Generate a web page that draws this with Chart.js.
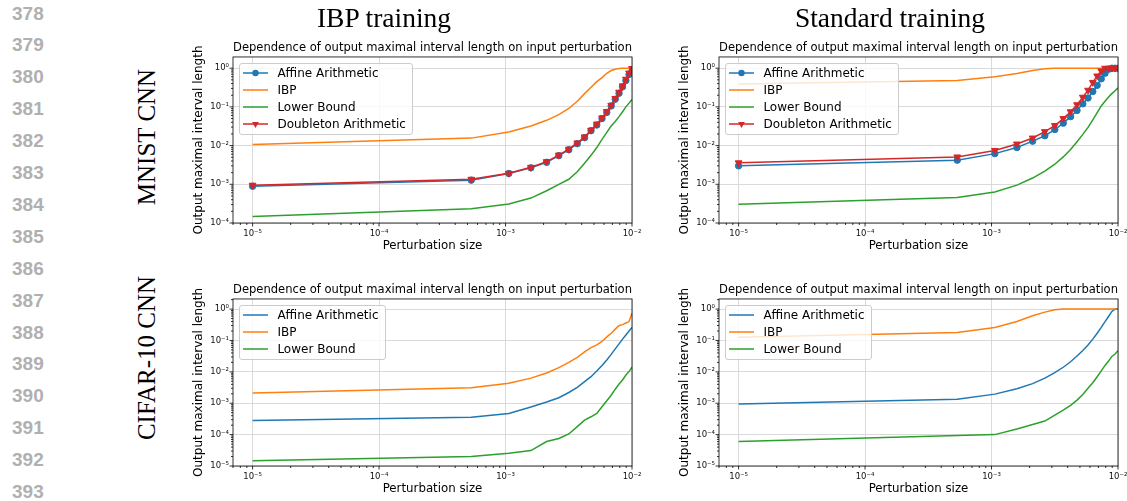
<!DOCTYPE html>
<html><head><meta charset="utf-8">
<script src="https://cdn.jsdelivr.net/npm/chart.js@4.4.1/dist/chart.umd.min.js"></script>
<style>
html,body{margin:0;padding:0;background:#fff;}
body{width:1127px;height:501px;position:relative;overflow:hidden;}
.ln{position:absolute;left:12px;font:bold 19px "Liberation Sans",Arial,sans-serif;color:#b0b0b0;line-height:1;transform:translateY(-50%);}
.coltitle{position:absolute;font:27.5px "Liberation Serif","Times New Roman",serif;transform:translate(-50%,-50%);white-space:nowrap;color:#000;}
.rowlabel{position:absolute;font:25px "Liberation Serif","Times New Roman",serif;transform:translate(-50%,-50%) rotate(-90deg);white-space:nowrap;color:#000;}
canvas{position:absolute;}
.legend{position:absolute;background:rgba(255,255,255,0.8);border:1px solid #cccccc;border-radius:3px;box-sizing:border-box;padding:0 6px 1.5px 3px;font:12px "DejaVu Sans",sans-serif;color:#000;}
.legend .row{display:flex;align-items:center;height:17.2px;white-space:nowrap;}
.legend svg{width:25px;height:10px;margin-right:9.4px;flex:none;}
</style></head><body>
<canvas id="c1" width="457" height="225" style="left:184px;top:33px"></canvas>
<canvas id="c2" width="457" height="225" style="left:670px;top:33px"></canvas>
<canvas id="c3" width="457" height="226" style="left:184px;top:275px"></canvas>
<canvas id="c4" width="457" height="226" style="left:670px;top:275px"></canvas>
<script>
// ---------- data ----------
const perturbation = [1e-5, 5.358e-4, 1.0616e-3, 1.5874e-3, 2.1132e-3, 2.6389e-3, 3.1647e-3, 3.6905e-3, 4.2163e-3, 4.7421e-3,
  5.2679e-3, 5.7937e-3, 6.3195e-3, 6.8453e-3, 7.3711e-3, 7.8968e-3, 8.4226e-3, 8.9484e-3, 9.4742e-3, 1e-2];

const seriesNames = ['Affine Arithmetic', 'IBP', 'Lower Bound', 'Doubleton Arithmetic'];
const columnTitles = ['IBP training', 'Standard training'];
const rowLabels = ['MNIST CNN', 'CIFAR-10 CNN'];
const lineNumbers = [378, 379, 380, 381, 382, 383, 384, 385, 386, 387, 388, 389, 390, 391, 392, 393];
const plotTitle = 'Dependence of output maximal interval length on input perturbation';
const xAxisLabel = 'Perturbation size';
const yAxisLabel = 'Output maximal interval length';

// MNIST CNN, IBP training
const mnistIbpAffine    = [8.9e-4, 1.28e-3, 1.9e-3, 2.66e-3, 3.7e-3, 5.5e-3, 7.8e-3, 0.0112, 0.016, 0.0243, 0.034, 0.05, 0.072, 0.106, 0.158, 0.225, 0.33, 0.48, 0.69, 0.85];
const mnistIbpIbp       = [0.0107, 0.0156, 0.0224, 0.032, 0.045, 0.063, 0.091, 0.14, 0.22, 0.32, 0.45, 0.57, 0.74, 0.87, 0.94, 0.98, 0.99, 1.0, 1.0, 1.0];
const mnistIbpLower     = [1.48e-4, 2.35e-4, 3.1e-4, 4.4e-4, 6.8e-4, 1.0e-3, 1.35e-3, 2.1e-3, 3.5e-3, 5.6e-3, 8.9e-3, 0.0145, 0.022, 0.032, 0.042, 0.056, 0.075, 0.1, 0.125, 0.155];
const mnistIbpDoubleton = [9.5e-4, 1.35e-3, 1.93e-3, 2.75e-3, 3.85e-3, 5.7e-3, 8.1e-3, 0.0117, 0.0168, 0.025, 0.036, 0.052, 0.076, 0.11, 0.165, 0.24, 0.35, 0.52, 0.75, 0.98];

// MNIST CNN, standard training
const mnistStdAffine    = [3.0e-3, 4.2e-3, 6.2e-3, 8.9e-3, 0.013, 0.018, 0.026, 0.038, 0.056, 0.081, 0.12, 0.17, 0.25, 0.36, 0.53, 0.74, 0.94, 1.0, 1.0, 1.0];
const mnistStdIbp       = [0.39, 0.48, 0.6, 0.73, 0.87, 0.97, 1.0, 1.0, 1.0, 1.0, 1.0, 1.0, 1.0, 1.0, 1.0, 1.0, 1.0, 1.0, 1.0, 1.0];
const mnistStdLower     = [3.05e-4, 4.55e-4, 6.3e-4, 9.5e-4, 1.45e-3, 2.2e-3, 3.3e-3, 5.1e-3, 7.9e-3, 0.0126, 0.0195, 0.0295, 0.046, 0.071, 0.106, 0.14, 0.18, 0.22, 0.26, 0.31];
const mnistStdDoubleton = [3.6e-3, 5.1e-3, 7.5e-3, 0.011, 0.0157, 0.023, 0.033, 0.05, 0.075, 0.114, 0.178, 0.27, 0.43, 0.63, 0.85, 1.0, 1.0, 1.0, 1.0, 1.0];

// CIFAR-10 CNN, IBP training
const cifarIbpAffine    = [2.8e-4, 3.6e-4, 4.7e-4, 7.6e-4, 1.1e-3, 1.5e-3, 2.2e-3, 3.2e-3, 4.9e-3, 7.0e-3, 0.0107, 0.016, 0.024, 0.036, 0.054, 0.078, 0.11, 0.15, 0.2, 0.26];
const cifarIbpIbp       = [2.1e-3, 3.1e-3, 4.3e-3, 6.3e-3, 9.2e-3, 0.0136, 0.02, 0.029, 0.043, 0.059, 0.072, 0.093, 0.13, 0.17, 0.23, 0.3, 0.32, 0.36, 0.4, 0.74];
const cifarIbpLower     = [1.48e-5, 2.0e-5, 2.55e-5, 3.1e-5, 6.0e-5, 7.5e-5, 1.05e-4, 1.8e-4, 2.9e-4, 3.7e-4, 4.7e-4, 7.7e-4, 1.2e-3, 1.8e-3, 2.8e-3, 4.1e-3, 5.5e-3, 7.9e-3, 0.0102, 0.014];

// CIFAR-10 CNN, standard training
const cifarStdAffine    = [9.4e-4, 1.35e-3, 1.95e-3, 2.9e-3, 4.2e-3, 6.3e-3, 9.4e-3, 0.014, 0.021, 0.032, 0.048, 0.072, 0.11, 0.17, 0.26, 0.4, 0.58, 0.84, 1.0, 1.0];
const cifarStdIbp       = [0.126, 0.18, 0.26, 0.4, 0.61, 0.8, 0.95, 1.0, 1.0, 1.0, 1.0, 1.0, 1.0, 1.0, 1.0, 1.0, 1.0, 1.0, 1.0, 1.0];
const cifarStdLower     = [6.0e-5, 9.3e-5, 1.0e-4, 1.5e-4, 2.1e-4, 2.7e-4, 4.2e-4, 6.0e-4, 8.5e-4, 1.26e-3, 1.9e-3, 3.0e-3, 4.5e-3, 7.0e-3, 0.0107, 0.016, 0.022, 0.031, 0.037, 0.047];

// ---------- styling ----------
const COLORS = { blue: '#1f77b4', orange: '#ff7f0e', green: '#2ca02c', red: '#d62728' };
const FONT = 'DejaVu Sans';
const SUP = {'-': '\u207B', '0': '\u2070', '1': '\u00B9', '2': '\u00B2', '3': '\u00B3', '4': '\u2074', '5': '\u2075', '6': '\u2076', '7': '\u2077', '8': '\u2078', '9': '\u2079'};

function isMajor(v) {
  if (!(v > 0)) return false;
  const e = Math.round(Math.log10(v));
  return Math.abs(v / Math.pow(10, e) - 1) < 1e-6;
}
function supLabel(v) {
  const e = Math.round(Math.log10(v));
  return '10' + String(e).split('').map(c => SUP[c]).join('');
}
function logTicks(scale) {
  const min = scale.min, max = scale.max, out = [];
  for (let e = Math.floor(Math.log10(min)); e <= Math.ceil(Math.log10(max)); e++) {
    for (let m = 1; m <= 9; m++) {
      const v = m * Math.pow(10, e);
      if (v >= min * (1 - 1e-9) && v <= max * (1 + 1e-9)) out.push({ value: v, major: m === 1 });
    }
  }
  scale.ticks = out;
}

const mplFrame = {
  id: 'mplFrame',
  afterDatasetsDraw(chart) {
    const { ctx, chartArea: a, scales: { x, y } } = chart;
    ctx.save();
    ctx.strokeStyle = '#000';
    ctx.lineWidth = 0.8;
    ctx.strokeRect(a.left, a.top, a.right - a.left, a.bottom - a.top);
    ctx.beginPath();
    x.ticks.forEach(t => {
      const p = x.getPixelForValue(t.value);
      const len = isMajor(t.value) ? 3.5 : 2;
      ctx.moveTo(p, a.bottom); ctx.lineTo(p, a.bottom + len);
    });
    y.ticks.forEach(t => {
      const p = y.getPixelForValue(t.value);
      const len = isMajor(t.value) ? 3.5 : 2;
      ctx.moveTo(a.left, p); ctx.lineTo(a.left - len, p);
    });
    ctx.stroke();
    ctx.restore();
  }
};

function series(label, ys, color, marker, idx) {
  return {
    label,
    data: perturbation.map((x, i) => ({ x, y: ys[i] })),
    borderColor: color, backgroundColor: color, borderWidth: 1.5,
    pointRadius: marker ? marker.r : 0,
    pointStyle: marker ? marker.style : 'circle',
    pointRotation: marker ? marker.rot : 0,
    pointBackgroundColor: color, pointBorderColor: color, pointBorderWidth: 1,
    pointHoverRadius: 0, tension: 0, fill: false, order: 10 - idx,
    _marker: marker || null
  };
}

const CIRCLE = { style: 'circle', r: 3.2, rot: 0 };
const TRI = { style: 'triangle', r: 3.9, rot: 180 };

function makeChart(id, canvasLeft, canvasTop, datasets, yMin, yMax) {
  const tickFont = { family: FONT, size: 8.5 };
  const gridCol = ctx => (ctx.tick && isMajor(ctx.tick.value)) ? '#d6d6d6' : 'rgba(0,0,0,0)';
  const chart = new Chart(document.getElementById(id), {
    type: 'line',
    data: { datasets },
    options: {
      responsive: false, animation: false, devicePixelRatio: 1,
      events: [],
      layout: { padding: { left: 0, right: 9, top: 0, bottom: 0 } },
      plugins: {
        legend: { display: false },
        tooltip: { enabled: false },
        title: {
          display: true, text: plotTitle, fullSize: false, color: '#000',
          font: { family: FONT, size: 11.8, weight: 'normal', lineHeight: 1.2 },
          padding: { top: 7.6, bottom: 2.2 }
        }
      },
      scales: {
        x: {
          type: 'logarithmic', min: 7.0e-6, max: 1e-2, bounds: 'data',
          afterBuildTicks: logTicks,
          afterFit: s => { s.height = 35; s.paddingLeft = 0; s.paddingRight = 0; s.paddingTop = 0; s.paddingBottom = 0; },
          grid: { color: gridCol, lineWidth: 0.9, drawTicks: false },
          border: { display: false },
          ticks: { autoSkip: false, maxRotation: 0, minRotation: 0, padding: 5.6, color: '#111', font: tickFont,
                   callback: v => isMajor(v) ? supLabel(v) : '' },
          title: { display: true, text: xAxisLabel, color: '#000', font: { family: FONT, size: 11.8, lineHeight: 1.2 }, padding: { top: 0, bottom: 4.9 } }
        },
        y: {
          type: 'logarithmic', min: yMin, max: yMax, bounds: 'data',
          afterBuildTicks: logTicks,
          afterFit: s => { s.width = 49; s.paddingLeft = 0; s.paddingRight = 0; s.paddingTop = 0; s.paddingBottom = 0; },
          grid: { color: gridCol, lineWidth: 0.9, drawTicks: false },
          border: { display: false },
          ticks: { autoSkip: false, padding: 4, color: '#111', font: tickFont,
                   callback: v => isMajor(v) ? supLabel(v) : '' },
          title: { display: true, text: yAxisLabel, color: '#000', font: { family: FONT, size: 12, lineHeight: 1.2 }, padding: { top: 7.3, bottom: 0 } }
        }
      }
    },
    plugins: [mplFrame]
  });
  addLegend(chart, canvasLeft, canvasTop);
  return chart;
}

function markerSvg(color, marker) {
  let m = '';
  if (marker && marker.style === 'circle') m = `<circle cx="12.5" cy="5" r="${marker.r}" fill="${color}"/>`;
  if (marker && marker.style === 'triangle') m = `<polygon points="12.5,8.9 9.1,3 15.9,3" fill="${color}"/>`;
  return `<svg viewBox="0 0 25 10"><line x1="0" y1="5" x2="25" y2="5" stroke="${color}" stroke-width="1.5"/>${m}</svg>`;
}

function addLegend(chart, canvasLeft, canvasTop) {
  const a = chart.chartArea;
  const div = document.createElement('div');
  div.className = 'legend';
  div.style.left = (canvasLeft + a.left + 6) + 'px';
  div.style.top = (canvasTop + a.top + 6) + 'px';
  chart.data.datasets.forEach(ds => {
    const row = document.createElement('div');
    row.className = 'row';
    row.innerHTML = markerSvg(ds.borderColor, ds._marker);
    const span = document.createElement('span');
    span.textContent = ds.label;
    row.appendChild(span);
    div.appendChild(row);
  });
  document.body.appendChild(div);
}

// ---------- page text ----------
lineNumbers.forEach((n, i) => {
  const d = document.createElement('div');
  d.className = 'ln';
  d.style.top = (12.5 + i * 31.9) + 'px';
  d.textContent = n;
  document.body.appendChild(d);
});
[[columnTitles[0], 384, 18], [columnTitles[1], 890, 18]].forEach(([t, x, y]) => {
  const d = document.createElement('div');
  d.className = 'coltitle'; d.style.left = x + 'px'; d.style.top = y + 'px'; d.textContent = t;
  document.body.appendChild(d);
});
[[rowLabels[0], 147, 137], [rowLabels[1], 147, 358]].forEach(([t, x, y]) => {
  const d = document.createElement('div');
  d.className = 'rowlabel'; d.style.left = x + 'px'; d.style.top = y + 'px'; d.textContent = t;
  document.body.appendChild(d);
});

// ---------- charts ----------
makeChart('c1', 184, 33, [
  series(seriesNames[0], mnistIbpAffine, COLORS.blue, CIRCLE, 0),
  series(seriesNames[1], mnistIbpIbp, COLORS.orange, null, 1),
  series(seriesNames[2], mnistIbpLower, COLORS.green, null, 2),
  series(seriesNames[3], mnistIbpDoubleton, COLORS.red, TRI, 3)
], 1e-4, 1.95);
makeChart('c2', 670, 33, [
  series(seriesNames[0], mnistStdAffine, COLORS.blue, CIRCLE, 0),
  series(seriesNames[1], mnistStdIbp, COLORS.orange, null, 1),
  series(seriesNames[2], mnistStdLower, COLORS.green, null, 2),
  series(seriesNames[3], mnistStdDoubleton, COLORS.red, TRI, 3)
], 1e-4, 1.95);
makeChart('c3', 184, 275, [
  series(seriesNames[0], cifarIbpAffine, COLORS.blue, null, 0),
  series(seriesNames[1], cifarIbpIbp, COLORS.orange, null, 1),
  series(seriesNames[2], cifarIbpLower, COLORS.green, null, 2)
], 1e-5, 2.1);
makeChart('c4', 670, 275, [
  series(seriesNames[0], cifarStdAffine, COLORS.blue, null, 0),
  series(seriesNames[1], cifarStdIbp, COLORS.orange, null, 1),
  series(seriesNames[2], cifarStdLower, COLORS.green, null, 2)
], 1e-5, 2.1);
</script>
</body></html>
